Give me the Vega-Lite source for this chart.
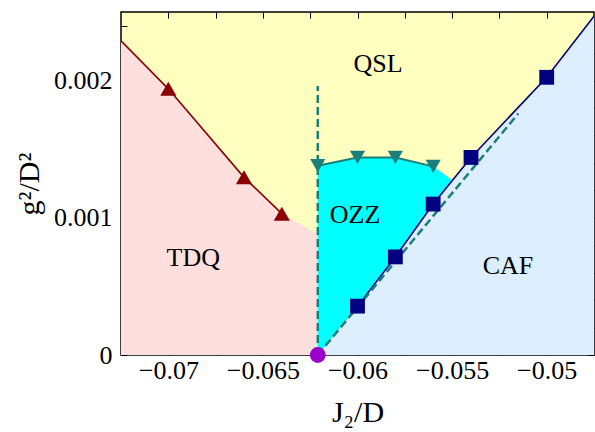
{
  "$schema": "https://vega.github.io/schema/vega-lite/v6.json",
  "width": 473,
  "height": 343,
  "autosize": {"type": "none"},
  "padding": {"left": 121, "top": 12, "right": 1, "bottom": 77},
  "config": {
    "view": {"fill": "#ffffc0", "stroke": "black", "strokeWidth": 1.5},
    "font": "Liberation Serif",
    "axis": {
      "grid": false,
      "domain": false,
      "tickColor": "black",
      "tickWidth": 1,
      "tickSize": -6,
      "labelColor": "black",
      "labelFont": "Liberation Serif",
      "titleFont": "Liberation Serif",
      "titleFontWeight": "normal",
      "titleColor": "black"
    }
  },
  "datasets": {
    "tdq": [
      {"x": -0.0725, "y": 0.00229},
      {"x": -0.07, "y": 0.00194},
      {"x": -0.066, "y": 0.001295},
      {"x": -0.064, "y": 0.00103},
      {"x": -0.0621, "y": 0.00088}
    ],
    "tdqpts": [
      {"x": -0.07, "y": 0.00194},
      {"x": -0.066, "y": 0.001295},
      {"x": -0.064, "y": 0.00103}
    ],
    "caf": [
      {"x": -0.0621, "y": 0},
      {"x": -0.06, "y": 0.000356},
      {"x": -0.058, "y": 0.000715},
      {"x": -0.056, "y": 0.0011},
      {"x": -0.054, "y": 0.00144},
      {"x": -0.05, "y": 0.002024},
      {"x": -0.0475, "y": 0.00247}
    ],
    "cafpts": [
      {"x": -0.06, "y": 0.000356},
      {"x": -0.058, "y": 0.000715},
      {"x": -0.056, "y": 0.0011},
      {"x": -0.054, "y": 0.00144},
      {"x": -0.05, "y": 0.002024}
    ],
    "ozz": [
      {"x": -0.0621, "top": 0.00138, "bottom": 0},
      {"x": -0.06, "top": 0.00144, "bottom": 0.000356},
      {"x": -0.058, "top": 0.00144, "bottom": 0.000715},
      {"x": -0.056, "top": 0.001375, "bottom": 0.0011},
      {"x": -0.05495, "top": 0.00127, "bottom": 0.00127}
    ],
    "ozzpts": [
      {"x": -0.0621, "y": 0.00138},
      {"x": -0.06, "y": 0.00144},
      {"x": -0.058, "y": 0.00144},
      {"x": -0.056, "y": 0.001375}
    ],
    "dashed": [
      {"seg": "v", "x": -0.0621, "y": 0},
      {"seg": "v", "x": -0.0621, "y": 0.00196},
      {"seg": "d", "x": -0.0621, "y": 0},
      {"seg": "d", "x": -0.0515, "y": 0.00176}
    ],
    "critical": [
      {"x": -0.0621, "y": 0}
    ],
    "labels": [
      {"x": -0.05891, "y": 0.002124, "text": "QSL"},
      {"x": -0.06868, "y": 0.000705, "text": "TDQ"},
      {"x": -0.06013, "y": 0.00102, "text": "OZZ"},
      {"x": -0.05205, "y": 0.000647, "text": "CAF"}
    ]
  },
  "resolve": {"axis": {"x": "independent", "y": "independent"}},
  "layer": [
    {
      "data": {"name": "tdq"},
      "mark": {"type": "area", "color": "#ffdede", "clip": true},
      "encoding": {
        "x": {
          "field": "x", "type": "quantitative",
          "scale": {"domain": [-0.0725, -0.0475], "nice": false, "zero": false},
          "axis": {
            "orient": "bottom",
            "values": [-0.07, -0.0675, -0.065, -0.0625, -0.06, -0.0575, -0.055, -0.0525, -0.05],
            "labelExpr": "round(datum.value*2000) % 10 == 0 ? '\u2212' + format(abs(datum.value), '') : ''",
            "labelFontSize": 26,
            "labelPadding": 8,
            "labelFlush": false,
            "labelOverlap": false,
            "title": "J\u2082/D",
            "titleFontSize": 30,
            "titlePadding": 14
          }
        },
        "y": {
          "field": "y", "type": "quantitative",
          "scale": {"domain": [0, 0.0025], "nice": false, "zero": false},
          "axis": {
            "orient": "left",
            "values": [0, 0.0002, 0.0004, 0.0006, 0.0008, 0.001, 0.0012, 0.0014, 0.0016, 0.0018, 0.002, 0.0022, 0.0024],
            "labelExpr": "round(datum.value*10000) % 10 == 0 ? format(datum.value, '') : ''",
            "labelFontSize": 26,
            "labelPadding": 15,
            "labelFlush": false,
            "labelOverlap": false,
            "title": "g\u00b2/D\u00b2",
            "titleFontSize": 30,
            "titlePadding": 9
          }
        },
        "y2": {"datum": 0}
      }
    },
    {
      "data": {"name": "caf"},
      "mark": {"type": "area", "color": "#ddeeff", "clip": true},
      "encoding": {
        "x": {"field": "x", "type": "quantitative", "axis": null},
        "y": {"field": "y", "type": "quantitative", "axis": null},
        "y2": {"datum": 0}
      }
    },
    {
      "data": {"name": "ozz"},
      "mark": {"type": "area", "color": "#00ffff", "clip": true},
      "encoding": {
        "x": {"field": "x", "type": "quantitative", "axis": null},
        "y": {"field": "top", "type": "quantitative", "axis": null},
        "y2": {"field": "bottom"}
      }
    },
    {
      "data": {"name": "tdq"},
      "transform": [{"filter": "datum.x <= -0.0635"}],
      "mark": {"type": "line", "color": "#8b0000", "strokeWidth": 1.6, "clip": true},
      "encoding": {
        "x": {"field": "x", "type": "quantitative", "axis": null},
        "y": {"field": "y", "type": "quantitative", "axis": null}
      }
    },
    {
      "data": {"name": "caf"},
      "transform": [{"filter": "datum.x >= -0.0605"}],
      "mark": {"type": "line", "color": "#000080", "strokeWidth": 1.6, "clip": true},
      "encoding": {
        "x": {"field": "x", "type": "quantitative", "axis": null},
        "y": {"field": "y", "type": "quantitative", "axis": null}
      }
    },
    {
      "data": {"name": "ozzpts"},
      "mark": {"type": "line", "color": "#1a7f7a", "strokeWidth": 2, "clip": true},
      "encoding": {
        "x": {"field": "x", "type": "quantitative", "axis": null},
        "y": {"field": "y", "type": "quantitative", "axis": null}
      }
    },
    {
      "data": {"name": "dashed"},
      "mark": {"type": "line", "color": "#1a7f7a", "strokeWidth": 2.5, "strokeDash": [8, 4], "clip": true},
      "encoding": {
        "x": {"field": "x", "type": "quantitative", "axis": null},
        "y": {"field": "y", "type": "quantitative", "axis": null},
        "detail": {"field": "seg"}
      }
    },
    {
      "data": {"name": "tdqpts"},
      "mark": {"type": "point", "shape": "triangle-up", "filled": true, "opacity": 1, "size": 260, "color": "#8b0000"},
      "encoding": {
        "x": {"field": "x", "type": "quantitative", "axis": null},
        "y": {"field": "y", "type": "quantitative", "axis": null}
      }
    },
    {
      "data": {"name": "cafpts"},
      "mark": {"type": "point", "shape": "square", "filled": true, "opacity": 1, "size": 220, "color": "#000080"},
      "encoding": {
        "x": {"field": "x", "type": "quantitative", "axis": null},
        "y": {"field": "y", "type": "quantitative", "axis": null}
      }
    },
    {
      "data": {"name": "ozzpts"},
      "mark": {"type": "point", "shape": "triangle-down", "filled": true, "opacity": 1, "size": 230, "color": "#1a7f7a"},
      "encoding": {
        "x": {"field": "x", "type": "quantitative", "axis": null},
        "y": {"field": "y", "type": "quantitative", "axis": null}
      }
    },
    {
      "data": {"name": "critical"},
      "mark": {"type": "point", "shape": "circle", "filled": true, "opacity": 1, "size": 250, "color": "#9900cc"},
      "encoding": {
        "x": {"field": "x", "type": "quantitative", "axis": null},
        "y": {"field": "y", "type": "quantitative", "axis": null}
      }
    },
    {
      "data": {"name": "labels"},
      "mark": {"type": "text", "font": "Liberation Serif", "fontSize": 26, "color": "black", "align": "center", "baseline": "middle"},
      "encoding": {
        "x": {
          "field": "x", "type": "quantitative",
          "axis": {
            "orient": "top",
            "values": [-0.07, -0.0675, -0.065, -0.0625, -0.06, -0.0575, -0.055, -0.0525, -0.05],
            "labels": false,
            "title": null
          }
        },
        "y": {
          "field": "y", "type": "quantitative",
          "axis": {
            "orient": "right",
            "values": [0, 0.0002, 0.0004, 0.0006, 0.0008, 0.001, 0.0012, 0.0014, 0.0016, 0.0018, 0.002, 0.0022, 0.0024],
            "labels": false,
            "title": null
          }
        },
        "text": {"field": "text"}
      }
    }
  ]
}
